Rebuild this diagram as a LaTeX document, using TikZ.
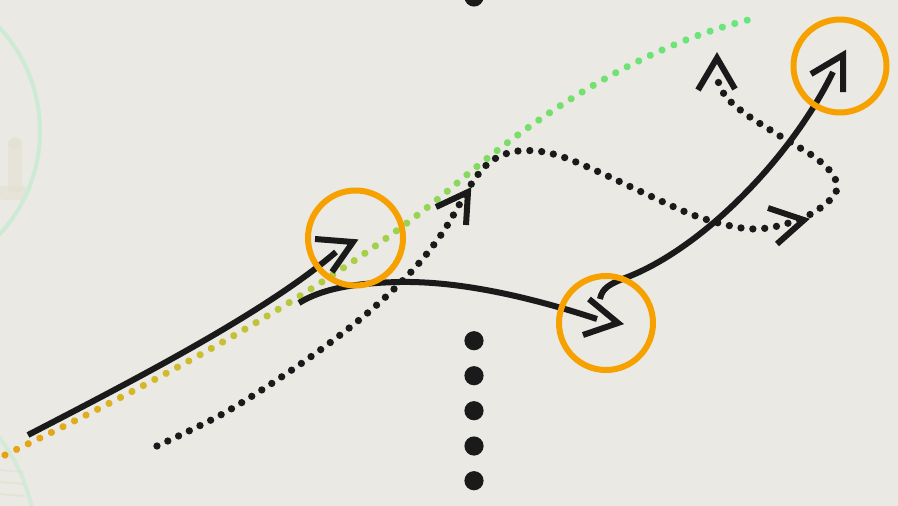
\documentclass[tikz,border=0pt]{standalone}
\usetikzlibrary{decorations.markings}
\definecolor{bg}{RGB}{234,233,228}
\definecolor{ink}{HTML}{1A1A1A}
\definecolor{ring}{HTML}{F6A100}
\definecolor{mint}{HTML}{CDEBD4}
\definecolor{ghost}{HTML}{E2DFCB}
\definecolor{gA}{HTML}{EAA012}
\definecolor{gB}{HTML}{D6B828}
\definecolor{gC}{HTML}{AECC44}
\definecolor{gD}{HTML}{78DE68}
\definecolor{gE}{HTML}{68E67E}
\newcount\gq
\newcount\gm
\newcommand\gradcol[1]{%
  \gq=\numexpr #1*100/68\relax
  \ifnum\gq>100 \gq=100 \fi
  \ifnum\gq<20 \gm=\numexpr\gq*5\relax\colorlet{dotc}{gB!\the\gm!gA}%
  \else\ifnum\gq<45 \gm=\numexpr(\gq-20)*4\relax\colorlet{dotc}{gC!\the\gm!gB}%
  \else\ifnum\gq<70 \gm=\numexpr(\gq-45)*4\relax\colorlet{dotc}{gD!\the\gm!gC}%
  \else \gm=\numexpr(\gq-70)*10/3\relax\colorlet{dotc}{gE!\the\gm!gD}%
  \fi\fi\fi}
\tikzset{
  solidline/.style={draw=ink, line width=6pt},
  chev/.style={draw=ink, line width=6pt, miter limit=10},
  dotline/.style={draw=ink, line width=7.3pt, line cap=round, dash pattern=on 0pt off 11.9pt},
  orangering/.style={draw=ring, line width=6pt},
  bigdot/.style={fill=ink},
  fadering/.style={draw=mint, line width=4pt},
  graddots/.style={decoration={markings,
     mark=between positions 0 and 1 step 12.9pt with {%
       \gradcol{\pgfkeysvalueof{/pgf/decoration/mark info/sequence number}}%
       \fill[dotc] (0,0) circle (3.6pt);}},
     decorate}
}
\begin{document}
\begin{tikzpicture}[x=1pt,y=-1pt]
\fill[bg] (0,0) rectangle (898,506);
\useasboundingbox (0,0) rectangle (898,506);
\clip (0,0) rectangle (898,506);
% faint background rings and ghost figures
\fill[ghost, opacity=0.45, rounded corners=3pt] (8,140) rectangle (22,192);
\fill[ghost, opacity=0.45, rounded corners=3pt] (0,186) rectangle (26,200);
\fill[ghost, opacity=0.5] (15,143) circle (6pt);
\foreach \yy in {470,482,494} \draw[ghost!80!mint, opacity=0.6, line width=2pt] (0,\yy) -- (24,\yy+2);
\draw[fadering] (-112,131) circle (152);
\draw[fadering, opacity=0.8] (-142,546) circle (178);
% gradient dotted curve
\path[graddots] (5,455) .. controls (155,383) and (332,289) .. (456,184) .. controls (546,107) and (648,45) .. (748,20);
% black dotted curve
\path[dotline] plot[smooth, tension=0.55] coordinates {(157,446) (226,412) (302,363) (364,316) (411,272) (443,232) (472,183) (490,162) (512,152) (537,151) (563,157) (599,172) (646,194) (693,215) (731,226) (756,229) (782,225) (811,214) (832,198) (837,186) (831,172) (813,156) (780,136) (747,115) (727,98) (719,84) (718,78)};
% solid curves
\path[solidline] (28,435) .. controls (138,378) and (266,312) .. (336,252);
\path[solidline] (299,303) .. controls (320,290) and (350,283) .. (400,282) .. controls (460,281) and (530,297) .. (597,319);
\path[solidline] (600,299) .. controls (602,288) and (610,284) .. (625,278) .. controls (700,250) and (790,160) .. (833,72);
% chevron arrowheads
\path[chev] (315,239) -- (353,242) -- (332,272);
\path[chev] (589,299) -- (618,323) -- (583,335);
\path[chev] (811,74) -- (843,55) -- (843,92);
\path[chev] (436,207) -- (468,192) -- (466,225);
\path[chev] (768,208) -- (804,220) -- (777,244);
\path[chev] (698,90) -- (717,58) -- (735,89);
% orange rings
\coordinate (r1) at (355.5,238);
\coordinate (r2) at (606,323);
\coordinate (r3) at (840,66);
\draw[orangering] (r1) circle (47.5);
\draw[orangering] (r2) circle (47);
\draw[orangering] (r3) circle (46.5);
% black dots
\foreach \yy in {-3,340.7,375.7,410.7,446,480.7} \fill[bigdot] (474,\yy) circle (9.6);
\end{tikzpicture}
\end{document}
